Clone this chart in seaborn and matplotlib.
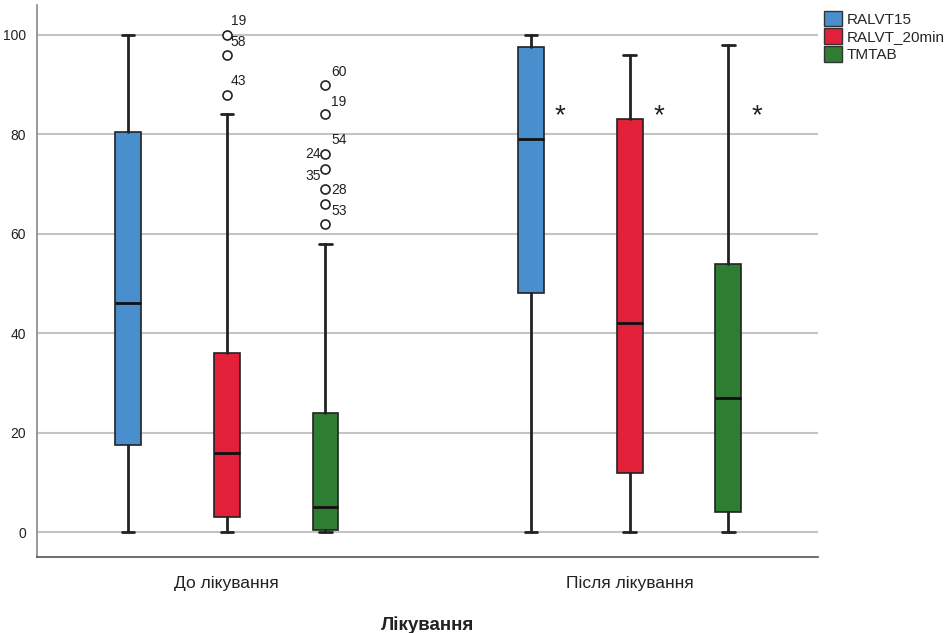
import matplotlib
matplotlib.use("Agg")
import matplotlib.pyplot as plt
import matplotlib.patches as mpatches
import seaborn as sns
import numpy as np

# ---------------- data ----------------
groups = ["До лікування", "Після лікування"]
series = ["RALVT15", "RALVT_20min", "TMTAB"]
colors = ["#4a8fcd", "#e2203a", "#2e7d32"]

# five-number summaries per group (rows) and series (cols)
whislo = [[0, 0, 0], [0, 0, 0]]
q1 = [[17.5, 3, 0.5], [48, 12, 4]]
med = [[46, 16, 5], [79, 42, 27]]
q3 = [[80.5, 36, 24], [97.5, 83, 54]]
whishi = [[100, 84, 58], [100, 96, 98]]

# outliers: (group, series) -> values
outliers_pre_red = [100, 96, 88]
outliers_pre_green = [90, 84, 76, 73, 69, 66, 62]

# outlier case labels: text, value, dx(pt), dy(pt), ha
labels_pre_red = [("19", 100, 3, 10, "left"), ("58", 100, 3, -5, "left"),
                  ("43", 88, 3, 10, "left")]
labels_pre_green = [("60", 90, 4, 9, "left"), ("19", 84, 4, 9, "left"),
                    ("54", 76, 4, 10, "left"), ("24", 76, -3, 0, "right"),
                    ("35", 73, -3, -5, "right"), ("28", 69, 4, -1, "left"),
                    ("53", 66, 4, -5, "left")]

# significance markers for post-treatment group
sig_marks = ["*", "*", "*"]
sig_y = 85

# ---------------- style ----------------
sns.set_theme(style="white")
plt.rcParams["font.family"] = ["Liberation Sans", "DejaVu Sans"]

fig = plt.figure(figsize=(9.51, 6.33), dpi=100)
ax = fig.add_axes([0.0389, 0.120, 0.821, 0.872])

offsets = [-0.245, 0.0, 0.245]
box_w = 0.064

stats, positions, facecols = [], [], []
for g in range(len(groups)):
    for s in range(len(series)):
        fl = []
        if g == 0 and s == 1:
            fl = outliers_pre_red
        if g == 0 and s == 2:
            fl = outliers_pre_green
        stats.append(dict(whislo=whislo[g][s], q1=q1[g][s], med=med[g][s],
                          q3=q3[g][s], whishi=whishi[g][s], fliers=fl))
        positions.append(g + offsets[s])
        facecols.append(colors[s])

bp = ax.bxp(stats, positions=positions, widths=box_w, patch_artist=True,
            showfliers=True,
            boxprops=dict(edgecolor="#222222", linewidth=1.2),
            medianprops=dict(color="#111111", linewidth=2.0),
            whiskerprops=dict(color="#222222", linewidth=2.0),
            capprops=dict(color="#222222", linewidth=2.0),
            capwidths=box_w * 0.48,
            flierprops=dict(marker="o", markerfacecolor="white",
                            markeredgecolor="#222222", markersize=6.5,
                            markeredgewidth=1.2))
for patch, c in zip(bp["boxes"], facecols):
    patch.set_facecolor(c)
for art in bp["whiskers"] + bp["caps"] + bp["medians"] + bp["boxes"]:
    art.set_zorder(3)
for f in bp["fliers"]:
    f.set_zorder(4)

# outlier labels
for txt, v, dx, dy, ha in labels_pre_red:
    ax.annotate(txt, (0 + offsets[1], v), xytext=(dx, dy), textcoords="offset points",
                ha=ha, va="center", fontsize=10, color="#222222")
for txt, v, dx, dy, ha in labels_pre_green:
    ax.annotate(txt, (0 + offsets[2], v), xytext=(dx, dy), textcoords="offset points",
                ha=ha, va="center", fontsize=10, color="#222222")

# significance asterisks
for s, m in enumerate(sig_marks):
    ax.annotate(m, (1 + offsets[s], sig_y), xytext=(17, -5), textcoords="offset points",
                ha="left", va="center", fontsize=20, color="#222222")

ax.set_xlim(-0.471, 1.467)
ax.set_ylim(-5, 106)
ax.set_yticks([0, 20, 40, 60, 80, 100])
ax.set_xticks([0, 1])
ax.set_xticklabels(groups, fontsize=12.5, color="#222222")
ax.tick_params(axis="y", labelsize=10, colors="#222222", length=0, pad=8)
ax.tick_params(axis="x", length=0, pad=14)
ax.yaxis.grid(True, color="#c4c4c4", linewidth=1.5)
ax.set_axisbelow(True)
for sp in ["top", "right"]:
    ax.spines[sp].set_visible(False)
ax.spines["left"].set_color("#888888")
ax.spines["left"].set_linewidth(1.2)
ax.spines["bottom"].set_color("#555555")
ax.spines["bottom"].set_linewidth(1.2)

ax.set_xlabel("Лікування", fontsize=13.5, fontweight="bold", color="#222222",
              labelpad=18)
ax.set_ylabel("")

handles = [mpatches.Patch(facecolor=c, edgecolor="#333333", linewidth=1.0, label=l)
           for c, l in zip(colors, series)]
fig.legend(handles=handles, loc="upper left", bbox_to_anchor=(0.860, 0.993),
           frameon=False, fontsize=11, handlelength=1.2, handleheight=1.2,
           handletextpad=0.3, labelspacing=0.12, borderaxespad=0)

fig.savefig("out.png", dpi=100)
